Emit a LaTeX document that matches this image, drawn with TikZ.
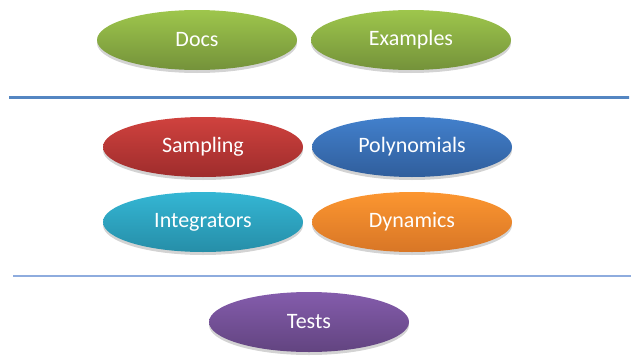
\documentclass[tikz,border=0pt]{standalone}
\usepackage{fontspec}
\setmainfont{Carlito}
\usetikzlibrary{shapes.geometric,shadows}
\definecolor{gtop}{RGB}{158,198,76}
\definecolor{gbot}{RGB}{116,146,58}
\definecolor{rtop}{RGB}{208,66,62}
\definecolor{rbot}{RGB}{158,44,44}
\definecolor{btop}{RGB}{66,128,204}
\definecolor{bbot}{RGB}{48,94,156}
\definecolor{ctop}{RGB}{52,182,212}
\definecolor{cbot}{RGB}{38,142,168}
\definecolor{otop}{RGB}{252,150,48}
\definecolor{obot}{RGB}{216,118,38}
\definecolor{ptop}{RGB}{132,92,172}
\definecolor{pbot}{RGB}{98,68,128}
\definecolor{sepa}{RGB}{84,134,194}
\definecolor{sepb}{RGB}{142,172,222}
\begin{document}
\begin{tikzpicture}[x=1pt,y=-1pt,
  blob/.style={ellipse, minimum width=200pt, minimum height=60pt, inner sep=0pt,
    text=white, font=\fontsize{22}{26}\selectfont,
    drop shadow={opacity=0.35, shadow xshift=0pt, shadow yshift=-3pt}},
  gblob/.style={blob, top color=gtop, bottom color=gbot},
  rblob/.style={blob, top color=rtop, bottom color=rbot},
  bblob/.style={blob, top color=btop, bottom color=bbot},
  cblob/.style={blob, top color=ctop, bottom color=cbot},
  oblob/.style={blob, top color=otop, bottom color=obot},
  pblob/.style={blob, top color=ptop, bottom color=pbot}]
\useasboundingbox (0,0) rectangle (631,356);
\coordinate (la) at (9,96.6);
\coordinate (lb) at (629,98.4);
\shade[left color=sepa, right color=sepa] (la) rectangle (lb);
\coordinate (lc) at (13,275);
\coordinate (ld) at (631,276.2);
\shade[left color=sepb, right color=sepb] (lc) rectangle (ld);
\node[gblob] (docs) at (197,40) {Docs};
\node[gblob] (examples) at (411,40) {Examples};
\node[rblob] (sampling) at (203,147) {Sampling};
\node[bblob] (poly) at (412,147) {Polynomials};
\node[cblob] (integ) at (203,222) {Integrators};
\node[oblob] (dyn) at (412,222) {Dynamics};
\node[pblob] (tests) at (309,322) {Tests};
\end{tikzpicture}
\end{document}
